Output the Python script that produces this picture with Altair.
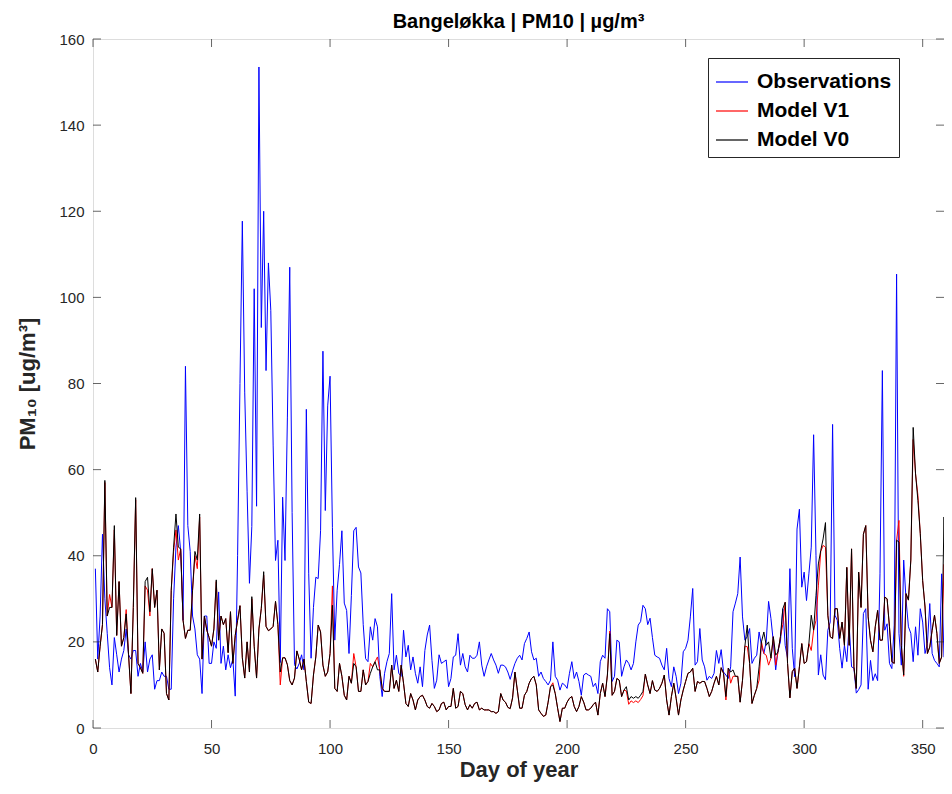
import altair as alt
import pandas as pd

# ---------------- data ----------------
days = list(range(1, 362))

obs = [
    37, 16, 26, 45, 30, 22, 14, 10, 21, 17,
    13, 16, 18, 23, 17, 16, 18, 18, 12, 15,
    13, 20, 13, 16, 17, 9, 11, 11, 13, 12,
    12, 9, 9, 30, 42, 47, 41, 25, 84, 47,
    41, 26, 23, 17, 16, 8, 26, 26, 15, 15,
    20, 18.5, 31.6, 15, 19, 13.5, 17, 14, 16, 7.4,
    40, 80, 117.7, 78, 55, 33.6, 46.8, 102, 51.5, 153.5,
    93, 120, 83, 108, 97, 65.7, 38.9, 43.6, 15.2, 53.6,
    38.9, 72, 107, 50, 14.7, 13.7, 15, 17, 13.5, 74,
    35.8, 16.2, 28, 35, 34.7, 45.8, 87.5, 50.5, 74.8, 81.7,
    46.6, 20.4, 32, 38, 45.8, 29, 27.3, 17.3, 30.8, 45.8,
    46.6, 37.4, 36, 24, 16.1, 15.4, 23.5, 20.4, 25.4, 23.5,
    12, 7.3, 12.7, 15.4, 17.3, 31.2, 13.5, 16.9, 12.7, 12,
    22.7, 16.5, 19.2, 13.5, 16.5, 12.7, 10.4, 14.2, 9.6, 18,
    21.6, 23.9, 15.7, 9.2, 11.1, 17, 15, 15.4, 15.8, 9.6,
    11.5, 16.5, 16.9, 21.9, 14.6, 17.3, 14.2, 13, 16.9, 16.2,
    16.2, 16.9, 20, 14.6, 12, 14.2, 15.8, 17.3, 15.8, 14.6,
    12.7, 14.6, 14.6, 14.2, 13, 11.3, 13.3, 15, 16.2, 16.9,
    15.8, 19.6, 20.8, 22.3, 17.7, 15.8, 16.2, 12, 13, 11.5,
    10.8, 10, 11.1, 20, 12, 11.1, 8.8, 10.4, 10, 9.2,
    12.7, 15.4, 11.5, 13, 10.8, 7.6, 12.3, 12.7, 12.3, 12,
    9.6, 10.4, 8, 15.4, 16.9, 16.2, 27.7, 27, 10.8, 12,
    20.4, 20, 12, 14.2, 15.8, 15, 13.5, 15, 20, 23.9,
    24.7, 28.5, 27.7, 24, 25.5, 21, 16.9, 16.5, 16.2, 14.6,
    13.5, 18.5, 11.5, 9.6, 14.2, 12, 8, 10.4, 17.7, 18.5,
    20.4, 25.8, 32.4, 14.6, 15.4, 23.1, 15.8, 14.2, 11.1, 12,
    11.5, 12.7, 18, 15, 18.2, 13, 12.3, 11.5, 14.2, 27,
    29, 31.2, 39.7, 25.8, 20.4, 21.2, 23.1, 15, 16.2, 16.9,
    22.3, 19.2, 17.3, 20, 29.4, 25.4, 20, 13.5, 18.2, 20,
    27.7, 19.2, 16.2, 37, 18.5, 11.9, 46.2, 50.8, 32.7, 36.2,
    29.6, 35.8, 42, 68.1, 40, 12.3, 17, 12.3, 11.2, 22.7,
    24.6, 70.5, 26.2, 25, 18.5, 13.9, 19.2, 15.4, 23.9, 14.2,
    13.9, 8.1, 8.9, 10, 26.6, 27.7, 9, 15.7, 11, 12.6,
    11, 35.8, 83, 22.7, 24.2, 15, 13.8, 23.9, 105.4, 22,
    14.6, 39, 29.7, 23.5, 22, 15.4, 23.5, 16.9, 27.7, 24.6,
    17.3, 19.6, 28.9, 17.3, 15.7, 15, 14.2, 35.8, 16.5, 15.7, 12,
]

model_v0 = [
    16, 13, 19, 24, 57.5, 26, 28, 28, 47, 21.5,
    34, 19, 21, 26.5, 17, 8, 28, 53.5, 15, 14,
    12.7, 34, 35, 27, 37, 28, 32, 13.5, 23, 22,
    8, 6.5, 32, 42, 49.7, 42, 41.6, 25, 20.8, 22.7,
    22.7, 32, 41, 39, 49.7, 16, 26, 22.7, 21, 19,
    23, 34.4, 20.4, 26, 24, 25.4, 17.5, 27, 15, 21.5,
    25, 28.4, 16.3, 11.6, 20, 13, 30.5, 19, 11.6, 23,
    27.8, 36.3, 23.6, 22.6, 23, 23.6, 29.4, 24, 13, 16.3,
    16.3, 14.7, 11, 10, 11.6, 17.9, 16, 13.5, 16, 10.8,
    6, 5.7, 12.3, 16.5, 23.9, 22.3, 14.6, 12, 13, 17.3,
    28.5, 9.2, 8.5, 15, 12, 7.6, 6.5, 12, 10.4, 15,
    14.2, 8.5, 8.5, 13.5, 10, 10.8, 12.7, 14.2, 15.4, 13.5,
    13.5, 9.2, 8.5, 8.5, 8.5, 14.6, 9.2, 11.1, 8.5, 14.6,
    10.4, 5.7, 5, 8, 6.5, 4.2, 6.5, 7.3, 7.6, 6.5,
    5, 4.6, 5.7, 5, 3.8, 4.2, 5.7, 6, 4.2, 5,
    5, 9.2, 4.6, 5, 8.5, 8, 5.4, 4.2, 5.4, 4.6,
    5.7, 6, 4.2, 4.6, 4.2, 4.2, 4.2, 3.8, 3.8, 3.4,
    3.8, 8, 6.5, 6, 4.8, 4.5, 7, 13, 8.8, 4.6,
    4.6, 7.6, 8.5, 10.4, 11.5, 12, 10, 4.2, 3.4, 2.7,
    3, 6, 9.6, 10, 8, 4.6, 1.5, 4.6, 4.6, 6,
    6.9, 7.3, 5, 3.8, 5, 7.3, 6, 4.2, 4.2, 4.6,
    5.4, 6, 3, 8, 10.4, 7.3, 12.3, 21.9, 7.6, 8.5,
    11.5, 11.1, 7.3, 8.8, 9.6, 6.5, 7.3, 6.9, 7.3, 6.9,
    7.6, 8.5, 12.5, 10, 8, 11, 8.8, 8.5, 9.2, 10.4,
    12.3, 6.5, 3, 7.3, 10.4, 6.9, 3, 6.5, 8.8, 10.8,
    12.7, 13, 13.9, 8.5, 10.8, 10.4, 10.8, 10.8, 9.2, 7.3,
    8.5, 10.4, 12, 10, 14, 12.7, 7.3, 13.9, 13, 13.5,
    12, 12, 6, 11.1, 19, 23.9, 15, 5.7, 7.6, 9.2,
    14.2, 20, 22.3, 19.2, 20, 16.2, 21.2, 16.9, 17.7, 21.2,
    27.7, 29.2, 15, 7, 13.1, 13.9, 9.2, 14.2, 19.6, 15,
    15.4, 19.6, 26.2, 22.7, 30.8, 38.1, 41.2, 43.9, 47.7, 26.2,
    21.2, 20.8, 27.7, 27.7, 20.8, 24.6, 19.2, 37.3, 19.2, 41.6,
    14.2, 9.2, 36.2, 28, 45, 47, 25.8, 20.4, 17.7, 23.5,
    27.3, 20.4, 20.4, 30.4, 30, 23.5, 15.4, 15, 43.6, 43.2,
    19.2, 12.3, 31.2, 29.7, 39, 69.8, 59, 52.8, 45.1, 34.2,
    28.1, 17.3, 18.8, 22.7, 26.2, 22, 15, 16.5, 49, 17.3, 35.8,
]

model_v1 = [
    16, 13, 19, 24, 57, 26, 31, 28, 46, 21.5,
    34, 19, 21, 27.5, 17, 8, 28, 53, 15, 14,
    12.7, 33, 32, 26, 37, 28, 32, 13.5, 23, 22,
    8, 6.5, 32, 41, 46, 39, 41.6, 25, 20.8, 22.7,
    22.7, 32, 40, 37, 49, 16, 26, 22.7, 21, 19,
    23, 34, 20.4, 26, 24, 25.4, 17.5, 27, 15, 21.5,
    25, 28.4, 16.3, 11.6, 20, 13, 30, 19, 11.6, 23,
    27.8, 35.5, 23.6, 22.6, 23, 23.6, 29.4, 24, 10, 16.3,
    16.3, 14.7, 11, 10, 11.6, 17.9, 16, 13.5, 16, 10.8,
    6, 5.7, 12.3, 16.5, 23.9, 22.3, 14.6, 12, 13, 17.3,
    33, 9.2, 8.5, 15, 12, 7.6, 6.5, 12, 10.4, 17.3,
    14.2, 8.5, 8.5, 13.5, 10, 10.8, 15, 14.2, 15.4, 16.5,
    13.5, 9.2, 8.5, 8.5, 8.5, 14.6, 9.2, 11.1, 8.5, 14.6,
    10.4, 5.7, 5, 8, 6.5, 4.2, 6.5, 7.3, 7.6, 6.5,
    5, 4.6, 5.7, 5, 3.8, 4.2, 5.7, 6, 4.2, 5,
    5, 9.2, 4.6, 5, 8.5, 8, 5.4, 4.2, 5.4, 4.6,
    5.7, 6, 4.2, 4.6, 4.2, 4.2, 4.2, 3.8, 3.8, 3.4,
    3.8, 8, 6.5, 6, 4.8, 4.5, 7, 13, 8.8, 4.6,
    4.6, 7.6, 8.5, 10.4, 11.5, 12, 10, 4.2, 3.4, 2.7,
    3, 6, 9.6, 10.5, 8, 4.6, 1.5, 4.6, 4.6, 6,
    6.9, 7.3, 5, 3.8, 5, 7.3, 6, 4.2, 4.2, 4.6,
    5.4, 6, 3, 8, 10.4, 7.3, 12.3, 22.5, 7.6, 8.5,
    11.5, 11.1, 7.3, 8.8, 8.6, 5.5, 6.3, 5.9, 6.3, 5.9,
    6.6, 7.5, 12.5, 10, 8, 11, 8.8, 8.5, 9.2, 10.4,
    12.3, 6.5, 3, 7.3, 10.4, 6.9, 3, 6.5, 8.8, 10.8,
    12.7, 13, 13.9, 8.5, 10.8, 10.4, 10.8, 10.8, 9.2, 7.3,
    8.5, 10.4, 12, 10, 14, 12.7, 6.5, 13.9, 10.4, 12,
    12, 12, 6, 11.1, 19, 18.9, 15, 5.7, 7.6, 9.2,
    11.1, 20, 17.3, 16.9, 14.6, 16.2, 21.2, 14.6, 17.7, 21.2,
    24, 29.2, 15, 7, 13.1, 13.9, 9.2, 14.2, 19.6, 15,
    15.4, 19.6, 18, 22.7, 25, 33, 41, 42.4, 42, 26.2,
    21.2, 20.8, 27.7, 27.7, 20.8, 24.6, 19.2, 37.3, 19.2, 41.6,
    14.2, 9.2, 36.2, 28, 45, 47, 25.8, 20.4, 17.7, 23.5,
    27.3, 20.4, 20.4, 30.4, 30, 23.5, 15.4, 15, 43.6, 48.2,
    19.2, 12, 31.2, 29.7, 39, 67, 59, 54, 45.1, 34.2,
    28.1, 17.3, 18.8, 22.7, 26.2, 22, 15, 16.5, 38, 17.3, 35.8,
]

series_names = ["Observations", "Model V1", "Model V0"]
series_colors = ["#0000ff", "#ff0000", "#000000"]
x_ticks = [0, 50, 100, 150, 200, 250, 300, 350]
y_ticks = [0, 20, 40, 60, 80, 100, 120, 140, 160]

# ---------------- chart ----------------
W, H = 851, 689
FONT = "Liberation Sans"
AX = "#262626"

df = pd.DataFrame({"day": days, "Observations": obs,
                   "Model V1": model_v1, "Model V0": model_v0})
long = df.melt(id_vars="day", var_name="series", value_name="pm")
long["order"] = long["series"].map({s: i for i, s in enumerate(series_names)})

xscale = alt.Scale(domain=[0, 359], nice=False, zero=False)
yscale = alt.Scale(domain=[0, 160], nice=False)

X = alt.X("day:Q", scale=xscale,
          axis=alt.Axis(values=x_ticks, title="Day of year", grid=False,
                        ticks=False, domain=False, labelPadding=13,
                        labelFont=FONT, labelFontSize=15, labelColor=AX,
                        titleFont=FONT, titleFontSize=22, titleFontWeight="bold",
                        titleColor=AX, titlePadding=3, labelFlush=False))
Y = alt.Y("pm:Q", scale=yscale,
          axis=alt.Axis(values=y_ticks, title="PM₁₀ [ug/m³]", grid=False,
                        ticks=False, domain=False, labelPadding=9,
                        labelFont=FONT, labelFontSize=15, labelColor=AX,
                        titleFont=FONT, titleFontSize=22, titleFontWeight="bold",
                        titleColor=AX, titlePadding=19))
C = alt.Color("series:N",
              scale=alt.Scale(domain=series_names, range=series_colors),
              legend=alt.Legend(title=None, orient="none", legendX=615, legendY=19,
                                symbolType="stroke", symbolSize=1024,
                                symbolStrokeWidth=1.2, labelOffset=8,
                                labelFont=FONT, labelFontSize=21,
                                labelFontWeight="bold", labelColor="#000000",
                                fillColor="#ffffff", strokeColor=AX,
                                padding=7, rowPadding=2, cornerRadius=0))

lines = alt.Chart(long).mark_line(strokeWidth=1, clip=True).encode(
    x=X, y=Y, color=C, detail="order:O")

yt = pd.DataFrame({"pm": y_ticks})
xt = pd.DataFrame({"day": x_ticks})
tick_style = dict(thickness=1, size=8, color=AX)
left_ticks = alt.Chart(yt).mark_tick(orient="horizontal", **tick_style).encode(
    y=Y, x=alt.value(4))
right_ticks = alt.Chart(yt).mark_tick(orient="horizontal", **tick_style).encode(
    y=Y, x=alt.value(W - 4))
bottom_ticks = alt.Chart(xt).mark_tick(orient="vertical", **tick_style).encode(
    x=X, y=alt.value(H - 4))
top_ticks = alt.Chart(xt).mark_tick(orient="vertical", **tick_style).encode(
    x=X, y=alt.value(4))

chart = alt.layer(lines, left_ticks, right_ticks, bottom_ticks, top_ticks).properties(
    width=W, height=H,
    title=alt.TitleParams("Bangeløkka | PM10 | µg/m³", font=FONT, fontSize=20,
                          fontWeight="bold", color="#000000", anchor="middle",
                          baseline="top", offset=0),
    padding={"left": 85, "top": 31, "right": 0, "bottom": 55},
    autosize=alt.AutoSizeParams(type="none"),
).configure_view(stroke=AX, strokeWidth=1).configure(background="#ffffff")

chart.save("out.html", embed_options={"renderer": "svg", "actions": False})
